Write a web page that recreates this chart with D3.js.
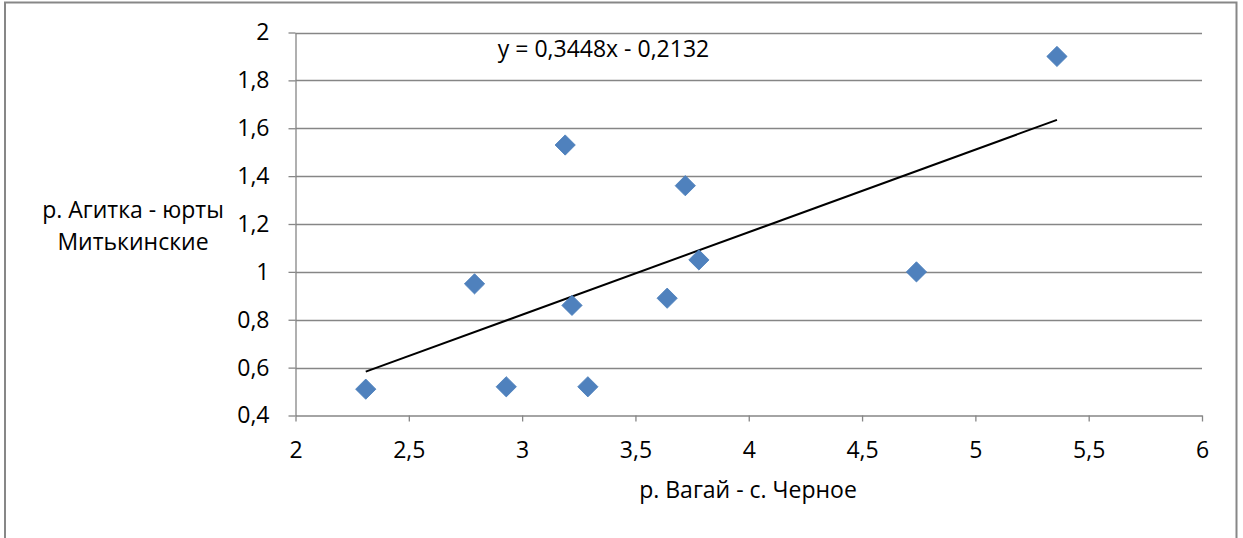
<!DOCTYPE html>
<html>
<head>
<meta charset="utf-8">
<script src="https://cdn.jsdelivr.net/npm/d3@7"></script>
<style>
  html, body { margin: 0; padding: 0; background: #fff; }
  svg { display: block; }
  text { font-family: "Open Sans", "Noto Sans", sans-serif; fill: #000; }
</style>
</head>
<body>
<svg id="chart" width="1243" height="538"></svg>
<script>
// Station pairs: discharge at р. Вагай - с. Черное (x) vs р. Агитка - юрты Митькинские (y)
const xValues = [2.31, 2.79, 2.93, 3.19, 3.22, 3.29, 3.64, 3.72, 3.78, 4.74, 5.36];
const yValues = [0.51, 0.95, 0.52, 1.53, 0.86, 0.52, 0.89, 1.36, 1.05, 1.00, 1.90];
const xTicks = [2, 2.5, 3, 3.5, 4, 4.5, 5, 5.5, 6];
const yTicks = [0.4, 0.6, 0.8, 1.0, 1.2, 1.4, 1.6, 1.8, 2.0];
const trendSlope = 0.3448;
const trendIntercept = -0.2132;
const trendLabel = "y = 0,3448x - 0,2132";
const xTitle = "р. Вагай - с. Черное";
const yTitleLines = ["р. Агитка - юрты", "Митькинские"];

const svg = d3.select("#chart");
const plot = { left: 295.5, right: 1202, top: 32.5, bottom: 415.5 };
const gridColor = "#868686";
const fontSize = 23;
const fmt = v => String(+v.toFixed(2)).replace(".", ",");

// outer chart frame
svg.append("path")
  .attr("d", "M5,545 V2.5 H1236.5 V545")
  .attr("fill", "none").attr("stroke", "#878787").attr("stroke-width", 2);

const x = d3.scaleLinear().domain([2, 6]).range([plot.left, plot.right]);
const y = d3.scaleLinear().domain([0.4, 2]).range([plot.bottom, plot.top]);

// horizontal gridlines
svg.append("g").selectAll("line").data(yTicks.filter(t => t > 0.4)).join("line")
  .attr("x1", plot.left).attr("x2", plot.right)
  .attr("y1", d => Math.round(y(d)) + 0.5).attr("y2", d => Math.round(y(d)) + 0.5)
  .attr("stroke", gridColor).attr("stroke-width", 1.3);

// axes
const xAxis = d3.axisBottom(x).tickValues(xTicks).tickFormat(fmt).tickSizeInner(6).tickSizeOuter(0).tickPadding(21);
const gx = svg.append("g").attr("transform", `translate(0,${plot.bottom})`).call(xAxis);
const yAxis = d3.axisLeft(y).tickValues(yTicks).tickFormat(fmt).tickSizeInner(7).tickSizeOuter(0).tickPadding(19);
const gy = svg.append("g").attr("transform", `translate(${plot.left},0)`).call(yAxis);
[gx, gy].forEach(g => {
  g.selectAll("path.domain").attr("stroke", gridColor).attr("stroke-width", 1.3);
  g.selectAll(".tick line").attr("stroke", gridColor).attr("stroke-width", 1.3);
  g.selectAll(".tick text").attr("font-size", fontSize).attr("font-family", null).attr("fill", "#000");
});
gx.selectAll(".tick text").attr("dy", "0.68em");

// linear trendline over the data range
const xMin = d3.min(xValues), xMax = d3.max(xValues);
svg.append("line")
  .attr("x1", x(xMin)).attr("y1", y(trendSlope * xMin + trendIntercept))
  .attr("x2", x(xMax)).attr("y2", y(trendSlope * xMax + trendIntercept))
  .attr("stroke", "#000").attr("stroke-width", 2);

// diamond markers
const diamond = d3.symbol().type(d3.symbolSquare).size(205);
svg.append("g").selectAll("path").data(xValues.map((v, i) => [v, yValues[i]])).join("path")
  .attr("d", diamond)
  .attr("transform", d => `translate(${x(d[0])},${y(d[1])}) rotate(45)`)
  .attr("fill", "#4F81BD").attr("stroke", "#4A7EBB").attr("stroke-width", 0.8);

// trendline equation
svg.append("text").attr("x", 603.5).attr("y", 57).attr("text-anchor", "middle")
  .attr("font-size", fontSize).text(trendLabel);

// axis titles
svg.append("text").attr("x", 748).attr("y", 498).attr("text-anchor", "middle")
  .attr("font-size", fontSize).text(xTitle);
svg.append("text").attr("text-anchor", "middle").attr("font-size", fontSize)
  .selectAll("tspan").data(yTitleLines).join("tspan")
  .attr("x", 133).attr("y", (d, i) => 218 + i * 32).text(d => d);
</script>
</body>
</html>
